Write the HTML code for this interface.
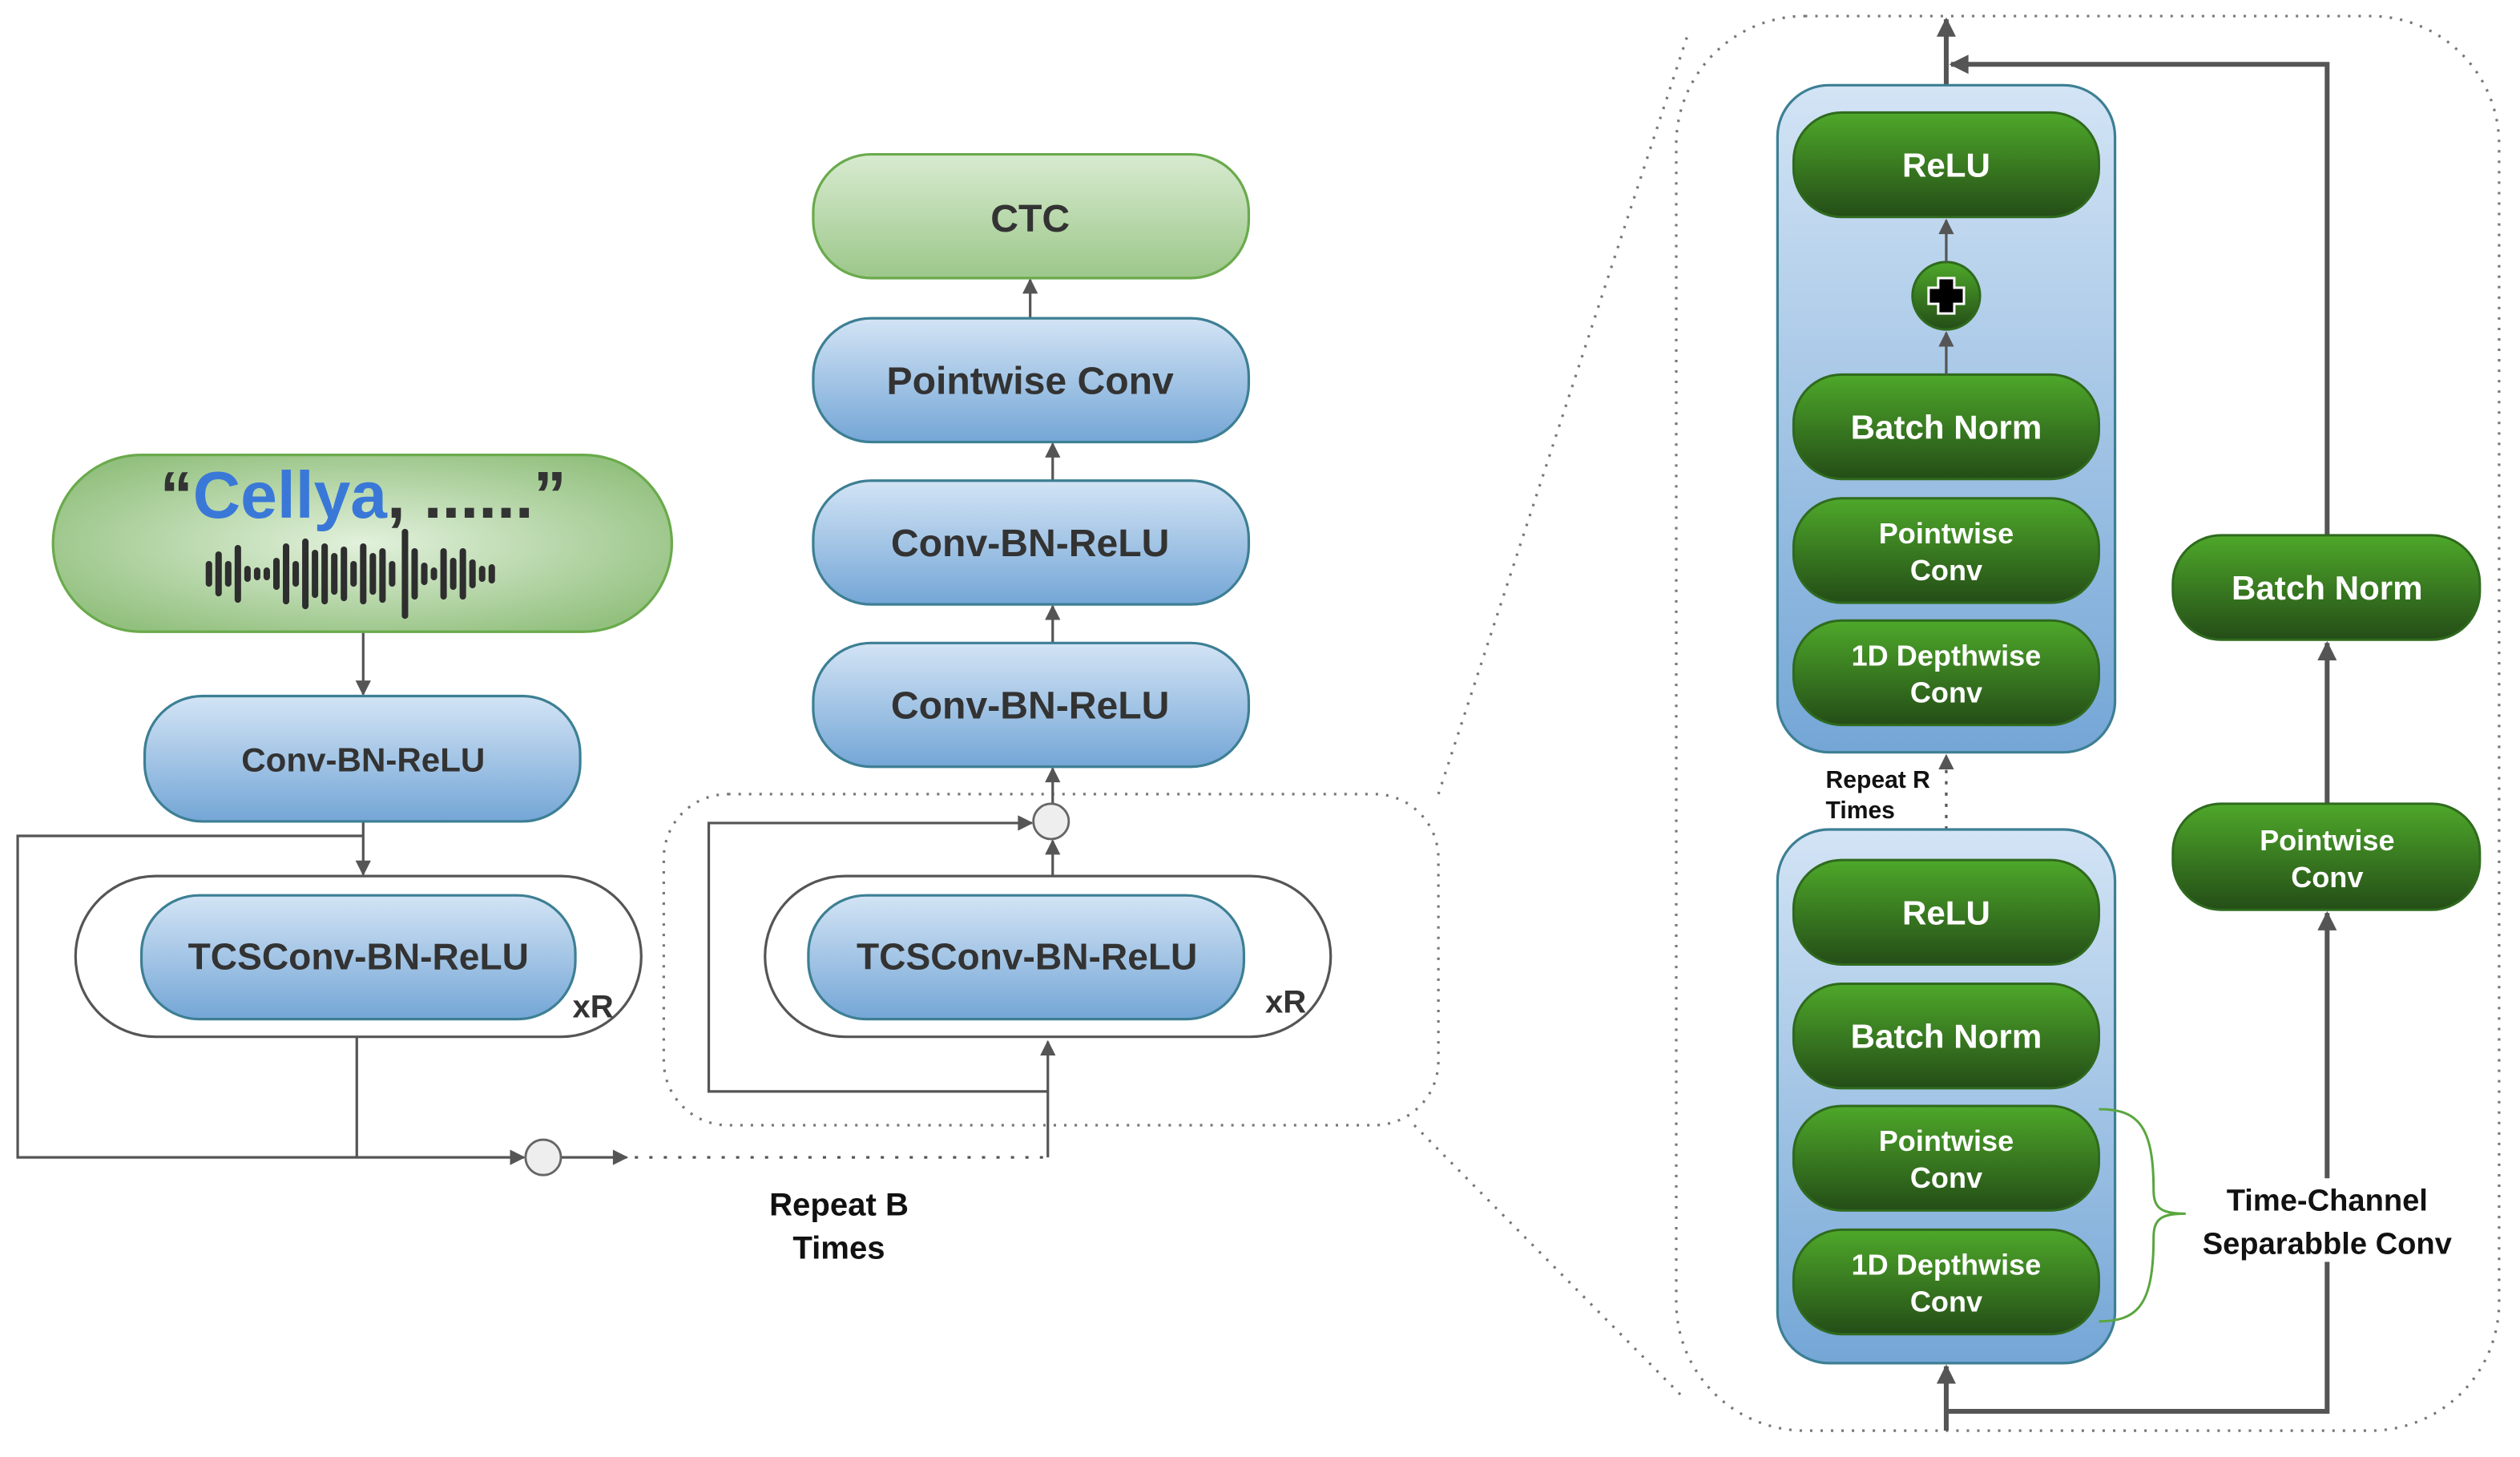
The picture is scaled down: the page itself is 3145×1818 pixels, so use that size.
<!DOCTYPE html>
<html><head><meta charset="utf-8"><style>html,body{margin:0;padding:0;background:#fff}svg{display:block}</style></head>
<body>
<svg width="3145" height="1818" viewBox="0 0 1568 906.4" preserveAspectRatio="none" xmlns="http://www.w3.org/2000/svg" font-family="Liberation Sans, Arial, sans-serif" font-weight="bold">
<defs>
<linearGradient id="blue" x1="0" y1="0" x2="0" y2="1"><stop offset="0" stop-color="#d3e4f5"/><stop offset="1" stop-color="#74a6d6"/></linearGradient>
<linearGradient id="green" x1="0" y1="0" x2="0" y2="1"><stop offset="0" stop-color="#4ea82a"/><stop offset="1" stop-color="#244d17"/></linearGradient>
<linearGradient id="lgreen" x1="0" y1="0" x2="0" y2="1"><stop offset="0" stop-color="#d8ebd0"/><stop offset="1" stop-color="#9cc78a"/></linearGradient>
<radialGradient id="rgreen" cx="0.5" cy="0.5" r="0.6"><stop offset="0" stop-color="#e2f1dc"/><stop offset="1" stop-color="#92c07e"/></radialGradient>
<marker id="ar" viewBox="0 0 10 10" refX="9" refY="5" markerWidth="6.5" markerHeight="6" orient="auto-start-reverse"><path d="M0,0 L10,5 L0,10 z" fill="#555"/></marker>
<marker id="ar2" viewBox="0 0 10 10" refX="9" refY="5" markerWidth="4.5" markerHeight="4" orient="auto-start-reverse"><path d="M0,0 L10,5 L0,10 z" fill="#555"/></marker>
</defs>
<g stroke="#555" stroke-width="1.6" fill="none">
<rect x="413" y="494" width="482" height="206" rx="40" stroke-dasharray="1.5 5" stroke="#777"/>
<rect x="1043" y="10" width="512" height="880" rx="80" stroke-dasharray="1.5 5" stroke="#777"/>
<line x1="895" y1="494" x2="1050" y2="22" stroke-dasharray="1.5 5" stroke="#777"/>
<line x1="880" y1="700" x2="1046" y2="868" stroke-dasharray="1.5 5" stroke="#777"/>
<line x1="226" y1="393" x2="226" y2="432" marker-end="url(#ar)"/>
<line x1="226" y1="511" x2="226" y2="544" marker-end="url(#ar)"/>
<polyline points="226,520 11,520 11,720 326,720" marker-end="url(#ar)"/>
<line x1="222" y1="645" x2="222" y2="720"/>
<rect x="47" y="545" width="352" height="100" rx="50"/>
<line x1="349" y1="720" x2="390" y2="720" marker-end="url(#ar)"/>
<line x1="395" y1="720" x2="652" y2="720" stroke-dasharray="2 7"/>
<line x1="652" y1="720" x2="652" y2="648" marker-end="url(#ar)"/>
<polyline points="652,679 441,679 441,512 642,512" marker-end="url(#ar)"/>
<rect x="476" y="545" width="352" height="100" rx="50"/>
<line x1="655" y1="545" x2="655" y2="523" marker-end="url(#ar)"/>
<line x1="655" y1="500" x2="655" y2="478" marker-end="url(#ar)"/>
<line x1="655" y1="400" x2="655" y2="377" marker-end="url(#ar)"/>
<line x1="655" y1="299" x2="655" y2="276" marker-end="url(#ar)"/>
<line x1="641" y1="198" x2="641" y2="174" marker-end="url(#ar)"/>
<line x1="1211" y1="53" x2="1211" y2="12" stroke-width="3" marker-end="url(#ar2)"/>
<polyline points="1448,333 1448,40 1214,40" stroke-width="3" marker-end="url(#ar2)"/>
<line x1="1448" y1="500" x2="1448" y2="400" stroke-width="3" marker-end="url(#ar2)"/>
<polyline points="1211,878 1448,878 1448,568" stroke-width="3" marker-end="url(#ar2)"/>
<line x1="1211" y1="890" x2="1211" y2="850" stroke-width="3" marker-end="url(#ar2)"/>
<line x1="1211" y1="516" x2="1211" y2="470" stroke-dasharray="2 5" marker-end="url(#ar)"/>
</g>
<rect x="33" y="283" width="385" height="110" rx="55" fill="url(#rgreen)" stroke="#6aaa4c" stroke-width="1.6"/>
<text x="226" y="322" text-anchor="middle" font-size="41"><tspan fill="#333">“</tspan><tspan fill="#3a78d8">Cellya</tspan><tspan fill="#333">, ......”</tspan></text>
<g fill="#2e2e2e">
<rect x="128" y="349" width="4" height="16" rx="2"/><rect x="134" y="343" width="4" height="28" rx="2"/><rect x="140" y="349" width="4" height="16" rx="2"/><rect x="146" y="339" width="4" height="36" rx="2"/><rect x="152" y="352" width="4" height="10" rx="2"/><rect x="158" y="353" width="4" height="8" rx="2"/><rect x="164" y="353" width="4" height="8" rx="2"/><rect x="170" y="347" width="4" height="20" rx="2"/><rect x="176" y="338" width="4" height="38" rx="2"/><rect x="182" y="349" width="4" height="16" rx="2"/><rect x="188" y="335" width="4" height="44" rx="2"/><rect x="194" y="342" width="4" height="30" rx="2"/><rect x="200" y="338" width="4" height="38" rx="2"/><rect x="206" y="344" width="4" height="26" rx="2"/><rect x="212" y="340" width="4" height="34" rx="2"/><rect x="218" y="349" width="4" height="16" rx="2"/><rect x="224" y="338" width="4" height="38" rx="2"/><rect x="230" y="344" width="4" height="26" rx="2"/><rect x="236" y="341" width="4" height="34" rx="2"/><rect x="242" y="349" width="4" height="16" rx="2"/><rect x="250" y="329" width="4" height="56" rx="2"/><rect x="256" y="341" width="4" height="32" rx="2"/><rect x="262" y="350" width="4" height="14" rx="2"/><rect x="268" y="353" width="4" height="8" rx="2"/><rect x="274" y="341" width="4" height="32" rx="2"/><rect x="280" y="347" width="4" height="20" rx="2"/><rect x="286" y="341" width="4" height="32" rx="2"/><rect x="292" y="348" width="4" height="18" rx="2"/><rect x="298" y="352" width="4" height="10" rx="2"/><rect x="304" y="351" width="4" height="12" rx="2"/>
</g>
<g stroke="#3d7f94" stroke-width="1.6" fill="url(#blue)">
<rect x="90" y="433" width="271" height="78" rx="36"/>
<rect x="88" y="557" width="270" height="77" rx="36"/>
<rect x="503" y="557" width="271" height="77" rx="36"/>
<rect x="506" y="400" width="271" height="77" rx="36"/>
<rect x="506" y="299" width="271" height="77" rx="36"/>
<rect x="506" y="198" width="271" height="77" rx="36"/>
<rect x="1106" y="53" width="210" height="415" rx="32"/>
<rect x="1106" y="516" width="210" height="332" rx="32"/>
</g>
<rect x="506" y="96" width="271" height="77" rx="36" fill="url(#lgreen)" stroke="#6aaa4c" stroke-width="1.6"/>
<g fill="#333" text-anchor="middle">
<text x="226" y="480" font-size="21">Conv-BN-ReLU</text>
<text x="223" y="603" font-size="23">TCSConv-BN-ReLU</text>
<text x="639" y="603" font-size="23">TCSConv-BN-ReLU</text>
<text x="641" y="447" font-size="24">Conv-BN-ReLU</text>
<text x="641" y="346" font-size="24">Conv-BN-ReLU</text>
<text x="641" y="245" font-size="24">Pointwise Conv</text>
<text x="641" y="144" font-size="24">CTC</text>
<text x="369" y="633" font-size="20">xR</text>
<text x="800" y="630" font-size="20">xR</text>
</g>
<g fill="#eee" stroke="#666" stroke-width="1.4"><circle cx="338" cy="720" r="11"/><circle cx="654" cy="511" r="11"/></g>
<rect x="1364" y="733" width="170" height="52" fill="#fff"/>
<g fill="#111" font-size="20" text-anchor="middle">
<text x="522" y="756">Repeat B</text><text x="522" y="783">Times</text>
<text x="1448" y="753" font-size="19">Time-Channel</text><text x="1448" y="780" font-size="19">Separabble Conv</text>
<text x="1136" y="490" font-size="15" text-anchor="start">Repeat R</text><text x="1136" y="509" font-size="15" text-anchor="start">Times</text>
</g>
<path d="M1306,690 C1330,690 1340,700 1340,740 C1340,752 1345,755 1360,755 M1306,822 C1330,822 1340,812 1340,770 C1340,758 1345,755 1360,755" fill="none" stroke="#5aa640" stroke-width="1.5"/>
<g stroke="#2f6a1e" stroke-width="1.5" fill="url(#green)">
<rect x="1116" y="70" width="190" height="65" rx="30"/>
<rect x="1116" y="233" width="190" height="65" rx="30"/>
<rect x="1116" y="310" width="190" height="65" rx="30"/>
<rect x="1116" y="386" width="190" height="65" rx="30"/>
<rect x="1116" y="535" width="190" height="65" rx="30"/>
<rect x="1116" y="612" width="190" height="65" rx="30"/>
<rect x="1116" y="688" width="190" height="65" rx="30"/>
<rect x="1116" y="765" width="190" height="65" rx="30"/>
<rect x="1352" y="333" width="191" height="65" rx="30"/>
<rect x="1352" y="500" width="191" height="66" rx="30"/>
<circle cx="1211" cy="184" r="21"/>
</g>
<g stroke="#555" stroke-width="1.6"><line x1="1211" y1="163" x2="1211" y2="137" marker-end="url(#ar)"/><line x1="1211" y1="233" x2="1211" y2="207" marker-end="url(#ar)"/></g>
<path d="M1206,173 h10 v6 h6 v10 h-6 v6 h-10 v-6 h-6 v-10 h6 z" fill="#000" stroke="#fff" stroke-width="1.5"/>
<g fill="#fff" font-size="21" text-anchor="middle">
<text x="1211" y="110">ReLU</text>
<text x="1211" y="273">Batch Norm</text>
<text x="1211" y="575">ReLU</text>
<text x="1211" y="652">Batch Norm</text>
<text x="1448" y="373">Batch Norm</text>
</g>
<g fill="#fff" font-size="18" text-anchor="middle">
<text x="1211" y="338">Pointwise</text><text x="1211" y="361">Conv</text>
<text x="1211" y="414">1D Depthwise</text><text x="1211" y="437">Conv</text>
<text x="1211" y="716">Pointwise</text><text x="1211" y="739">Conv</text>
<text x="1211" y="793">1D Depthwise</text><text x="1211" y="816">Conv</text>
<text x="1448" y="529">Pointwise</text><text x="1448" y="552">Conv</text>
</g>
</svg>
</body></html>
